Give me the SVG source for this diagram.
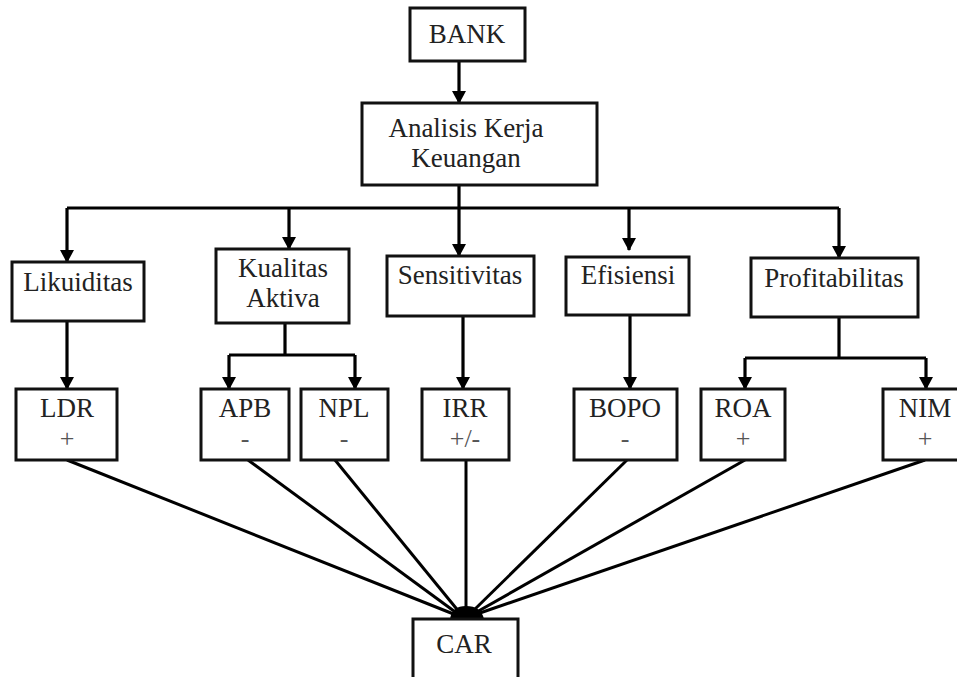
<svg xmlns="http://www.w3.org/2000/svg" width="957" height="677" viewBox="0 0 957 677">
<defs>
<style>
.box{fill:#fff;stroke:#111;stroke-width:3}
.t{font-family:"Liberation Serif","Times New Roman",serif;font-size:27px;fill:#222;text-anchor:middle}
.s{font-family:"Liberation Serif","Times New Roman",serif;font-size:26px;fill:#555;text-anchor:middle}
.c{fill:none;stroke:#000;stroke-width:3.2}
.a{fill:none;stroke:#000;stroke-width:3.2;marker-end:url(#ah)}
.l{fill:none;stroke:#000;stroke-width:3}
</style>
<marker id="ah" viewBox="0 0 13 14" refX="12" refY="7" markerWidth="13" markerHeight="14" markerUnits="userSpaceOnUse" orient="auto">
<path d="M0,0 L13,7 L0,14 Z" fill="#000"/>
</marker>
</defs>
<rect width="957" height="677" fill="#fff"/>
<g id="connectors">
<line class="a" x1="459" y1="61" x2="459" y2="103"/>
<line class="c" x1="459" y1="185" x2="459" y2="208"/>
<line class="c" x1="67" y1="208" x2="839" y2="208"/>
<line class="a" x1="67" y1="208" x2="67" y2="262"/>
<line class="a" x1="289" y1="208" x2="289" y2="249"/>
<line class="a" x1="459" y1="208" x2="459" y2="256"/>
<line class="a" x1="629" y1="208" x2="629" y2="250"/>
<line class="a" x1="839" y1="208" x2="839" y2="258"/>
<line class="a" x1="67" y1="321" x2="67" y2="389"/>
<line class="c" x1="285" y1="323" x2="285" y2="355"/>
<line class="c" x1="229" y1="355" x2="355" y2="355"/>
<line class="a" x1="229" y1="355" x2="229" y2="389"/>
<line class="a" x1="355" y1="355" x2="355" y2="389"/>
<line class="a" x1="463" y1="316" x2="463" y2="389"/>
<line class="a" x1="630" y1="315" x2="630" y2="389"/>
<line class="c" x1="839" y1="317" x2="839" y2="358"/>
<line class="c" x1="745" y1="358" x2="926" y2="358"/>
<line class="a" x1="745" y1="358" x2="745" y2="389"/>
<line class="a" x1="926" y1="358" x2="926" y2="389"/>
<line class="l" x1="67" y1="460" x2="456" y2="615"/>
<line class="l" x1="248" y1="460" x2="458" y2="614"/>
<line class="l" x1="335" y1="460" x2="460" y2="613"/>
<line class="l" x1="466" y1="460" x2="466" y2="612"/>
<line class="l" x1="627" y1="460" x2="472" y2="612"/>
<line class="l" x1="745" y1="460" x2="475" y2="613"/>
<line class="l" x1="925" y1="460" x2="477" y2="614"/>
<path d="M450,619 Q452,606 466,606 Q481,606 484,619 Z" fill="#000"/>
</g>
<g id="bank"><rect class="box" x="410" y="8" width="115" height="53"/><text class="t" x="467" y="43">BANK</text></g>
<g id="analisis"><rect class="box" x="362" y="103" width="235" height="82"/><text class="t" x="466" y="137">Analisis Kerja</text><text class="t" x="466" y="167">Keuangan</text></g>
<g id="likuiditas"><rect class="box" x="12" y="262" width="132" height="59"/><text class="t" x="78" y="291">Likuiditas</text></g>
<g id="kualitas"><rect class="box" x="216" y="249" width="133" height="74"/><text class="t" x="283" y="277">Kualitas</text><text class="t" x="283" y="307">Aktiva</text></g>
<g id="sensitivitas"><rect class="box" x="387" y="256" width="147" height="60"/><text class="t" x="460" y="284">Sensitivitas</text></g>
<g id="efisiensi"><rect class="box" x="566" y="257" width="123" height="58"/><text class="t" x="628" y="284">Efisiensi</text></g>
<g id="profitabilitas"><rect class="box" x="751" y="258" width="167" height="59"/><text class="t" x="834" y="287">Profitabilitas</text></g>
<g id="ldr"><rect class="box" x="16" y="389" width="101" height="71"/><text class="t" x="67" y="417">LDR</text><text class="s" x="67" y="447">+</text></g>
<g id="apb"><rect class="box" x="201" y="389" width="88" height="71"/><text class="t" x="245" y="417">APB</text><text class="s" x="245" y="447">-</text></g>
<g id="npl"><rect class="box" x="301" y="389" width="87" height="71"/><text class="t" x="344" y="417">NPL</text><text class="s" x="344" y="447">-</text></g>
<g id="irr"><rect class="box" x="422" y="389" width="87" height="71"/><text class="t" x="465" y="417">IRR</text><text class="s" x="465" y="447">+/-</text></g>
<g id="bopo"><rect class="box" x="574" y="389" width="103" height="71"/><text class="t" x="625" y="417">BOPO</text><text class="s" x="625" y="447">-</text></g>
<g id="roa"><rect class="box" x="701" y="389" width="84" height="71"/><text class="t" x="743" y="417">ROA</text><text class="s" x="743" y="447">+</text></g>
<g id="nim"><rect class="box" x="883" y="389" width="76" height="71"/><text class="t" x="925" y="417">NIM</text><text class="s" x="925" y="447">+</text></g>
<g id="car"><rect class="box" x="413" y="619" width="105" height="60"/><text class="t" x="464" y="653">CAR</text></g>
</svg>
